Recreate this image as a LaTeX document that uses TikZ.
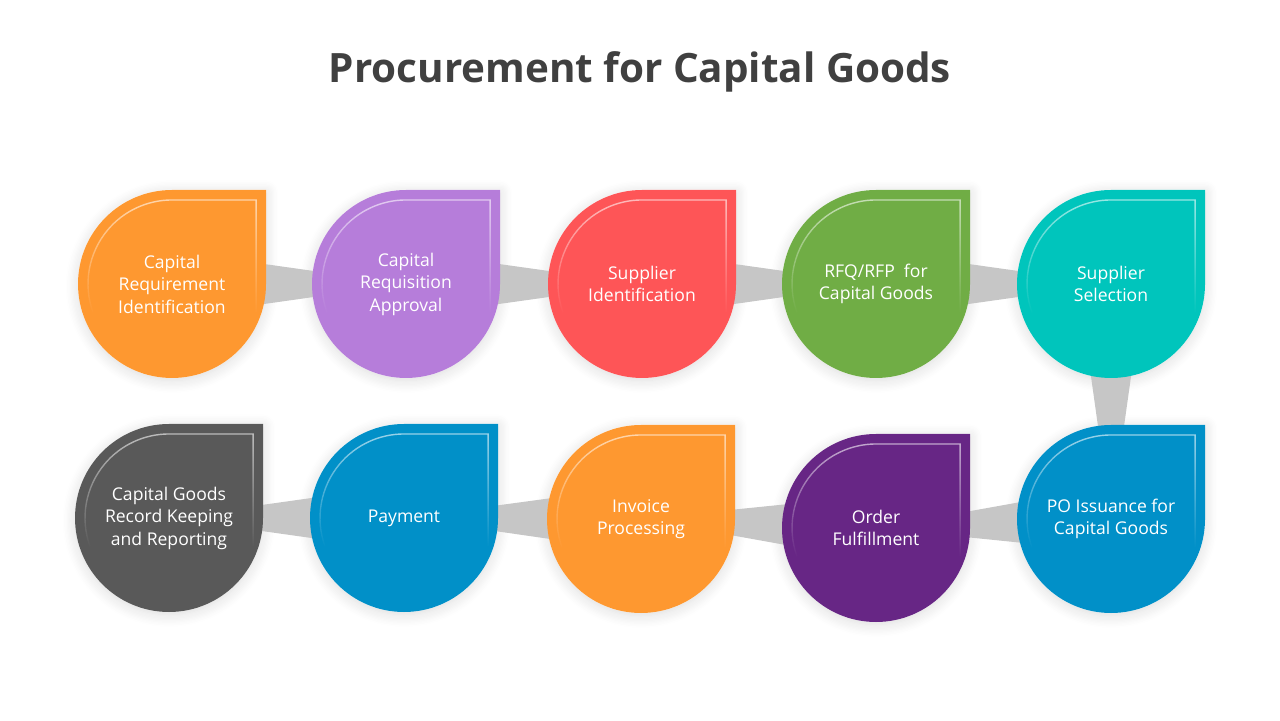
\documentclass[tikz,border=0pt]{standalone}
\usepackage{fontspec}
\setmainfont{Open Sans}
\usetikzlibrary{calc,fadings,shadows.blur}
\definecolor{DropOrange}{HTML}{FE9830}
\definecolor{DropViolet}{HTML}{B67DDA}
\definecolor{DropRed}{HTML}{FE5557}
\definecolor{DropGreen}{HTML}{70AD45}
\definecolor{DropTeal}{HTML}{00C5BC}
\definecolor{DropBlue}{HTML}{0190C8}
\definecolor{DropPlum}{HTML}{672685}
\definecolor{DropGrey}{HTML}{595959}
\definecolor{TitleGrey}{HTML}{404040}
\definecolor{LinkGrey}{HTML}{C6C6C6}
\pgfdeclarelayer{shade}
\pgfdeclarelayer{links}
\pgfsetlayers{shade,links,main}
\tikzfading[name=glintfade, top color=transparent!15, middle color=transparent!30,
  bottom color=transparent!100]
\tikzset{
  dropshade/.style={fill=white, blur shadow={shadow xshift=0pt, shadow yshift=-1.5pt,
      shadow blur radius=7pt, shadow blur steps=10, shadow opacity=14}},
  drop/.style={fill=#1},
  glint/.style={draw=white, line width=0.8pt, opacity=0.7, path fading=glintfade},
  steptext/.style={align=center, text=white, font=\fontsize{10}{12.8}\selectfont},
  link/.style={fill=LinkGrey}
}
% teardrop with a square top right corner: name, x, y, colour, text
\newcommand{\dropnode}[5]{%
  \begin{pgfonlayer}{shade}
    \fill[dropshade,shift={(#2,#3)}] (94,94) -- (0,94) arc (90:360:94) -- cycle;
  \end{pgfonlayer}
  \begin{scope}[shift={(#2,#3)}]
    \fill[drop=#4] (94,94) -- (0,94) arc (90:360:94) -- cycle;
    \draw[glint] (200:84) arc (200:90:84) -- (84,84) -- (84,-28);
  \end{scope}
  \node[steptext] (#1) at (#2,#3) {#5};}
% tapered connector, wide at the first step
\newcommand{\wedgelink}[2]{%
  \fill[link] ($(#1.center)!0.66cm!90:(#2.center)$)
    -- ($(#1.center)!0.66cm!-90:(#2.center)$) -- (#2.center) -- cycle;}
\begin{document}
\begin{tikzpicture}[x=0.02cm,y=0.02cm]
  \useasboundingbox (0,0) rectangle (1280,720);
  \node[text=TitleGrey, font=\fontsize{23}{27}\selectfont\bfseries] (title) at (640,648)
    {Procurement for Capital Goods};

  % top row
  \dropnode{s1}{172}{436}{DropOrange}{Capital\\Requirement\\Identification}
  \dropnode{s2}{406}{436}{DropViolet}{Capital\\Requisition\\Approval}
  \dropnode{s3}{642}{436}{DropRed}{Supplier\\Identification}
  \dropnode{s4}{876}{436}{DropGreen}{RFQ/RFP\ \ for\\Capital Goods}
  \dropnode{s5}{1111}{436}{DropTeal}{Supplier\\Selection}
  % bottom row
  \dropnode{s6}{1111}{201}{DropBlue}{PO Issuance for\\Capital Goods}
  \dropnode{s7}{876}{192}{DropPlum}{Order\\Fulfillment}
  \dropnode{s8}{641}{201}{DropOrange}{Invoice\\Processing}
  \dropnode{s9}{404}{202}{DropBlue}{Payment}
  \dropnode{s10}{169}{202}{DropGrey}{Capital Goods\\Record Keeping\\and Reporting}

  \begin{pgfonlayer}{links}
    \wedgelink{s1}{s2}
    \wedgelink{s2}{s3}
    \wedgelink{s3}{s4}
    \wedgelink{s4}{s5}
    \wedgelink{s5}{s6}
    \wedgelink{s6}{s7}
    \wedgelink{s7}{s8}
    \wedgelink{s8}{s9}
    \wedgelink{s9}{s10}
  \end{pgfonlayer}
\end{tikzpicture}
\end{document}
